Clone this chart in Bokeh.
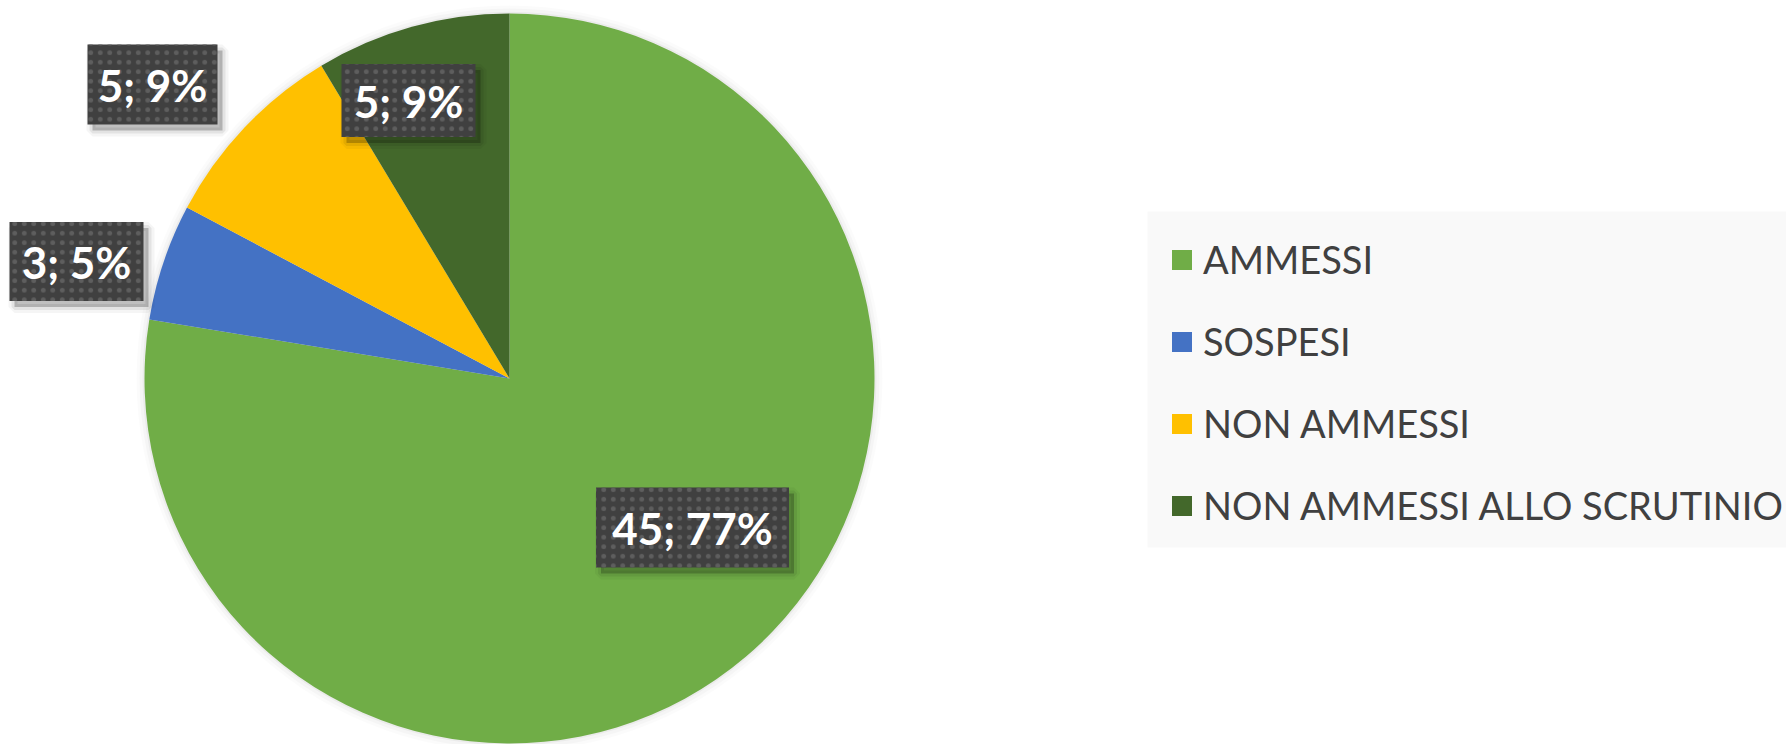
import numpy as np
from bokeh.plotting import figure
from bokeh.models import ColumnDataSource, Range1d, Legend, LegendItem, BoxAnnotation
from bokeh.core.properties import value
from bokeh.embed import file_html
from bokeh.resources import INLINE

# ---- data ----
categories = ["AMMESSI", "SOSPESI", "NON AMMESSI", "NON AMMESSI ALLO SCRUTINIO"]
counts = [45, 3, 5, 5]
percents = [77, 5, 9, 9]
colors = ["#70AD47", "#4472C4", "#FFC000", "#43682B"]

# ---- layout (screen px) ----
W, H = 1786, 744
def fx(px):
    return px
def fy(py):
    return H - py

CX, CY, R = fx(509), fy(378), 365
label_pos = [(692, 527), (76, 261), (152, 84), (408, 100)]
label_w = [193, 134, 130, 134]
label_h = [80, 79, 80, 73]

vals = np.array(counts, dtype=float)
frac = vals / vals.sum()
cum = np.concatenate([[0], np.cumsum(frac)])
start = np.pi / 2 - 2 * np.pi * cum[:-1]
end = np.pi / 2 - 2 * np.pi * cum[1:]

src = ColumnDataSource(dict(
    x=[CX] * 4, y=[CY] * 4, start=start, end=end, color=colors, label=categories,
))

p = figure(width=W, height=H, x_range=Range1d(0, W), y_range=Range1d(0, H),
           output_backend="svg", toolbar_location=None,
           x_axis_location=None, y_axis_location=None, min_border=0)
p.grid.visible = False
p.outline_line_color = None
p.background_fill_color = "white"
p.border_fill_color = "white"

# legend background panel
p.add_layout(BoxAnnotation(left=fx(1147), top=fy(211), bottom=fy(547),
                           fill_color="#f9f9f9", fill_alpha=1.0,
                           line_color=None, level="underlay"))

# soft pie shadow
for extra, a in [(8, 0.015), (5, 0.025), (2, 0.04)]:
    p.circle(x=[CX], y=[CY], radius=R + extra, fill_color="black",
             fill_alpha=a, line_color=None)

wr = p.wedge(x="x", y="y", radius=R, start_angle="start", end_angle="end",
             direction="clock", fill_color="color", line_color=None, source=src)

# data labels
texts = [f"{c}; {pc}%" for c, pc in zip(counts, percents)]
lx = [fx(a) for a, b in label_pos]
ly = [fy(b) for a, b in label_pos]
lsrc = ColumnDataSource(dict(x=lx, y=ly, w=label_w, h=label_h, t=texts,
                             sx=[v + 5 for v in lx], sy=[v - 6 for v in ly]))
for lw, a in [(12, 0.04), (6, 0.07)]:
    p.rect(x="sx", y="sy", width="w", height="h", source=lsrc, fill_color="black",
           fill_alpha=0.0, line_color="black", line_alpha=a, line_width=lw)
p.rect(x="sx", y="sy", width="w", height="h", source=lsrc, fill_color="black",
       fill_alpha=0.22, line_color=None)
p.rect(x="x", y="y", width="w", height="h", source=lsrc, fill_color="#404040",
       line_color=None, hatch_pattern="dot", hatch_color="#5e5e5e",
       hatch_scale=9.5, hatch_weight=4)
p.text(x="x", y="y", text="t", source=lsrc, text_color="white",
       text_font=value("Lato"), text_font_style="bold", text_font_size="44px",
       text_align="center", text_baseline="middle")

legend = Legend(items=[LegendItem(label=categories[i], renderers=[wr], index=i) for i in range(4)],
                location=(1169, 216),
                background_fill_alpha=0.0,
                border_line_color=None, label_text_font="Lato",
                label_text_font_size="38px", label_text_color="#404040",
                glyph_width=25, glyph_height=25, label_standoff=9,
                spacing=36, padding=30, margin=0)
p.add_layout(legend, "center")

open("out.html", "w").write(file_html(p, INLINE))
